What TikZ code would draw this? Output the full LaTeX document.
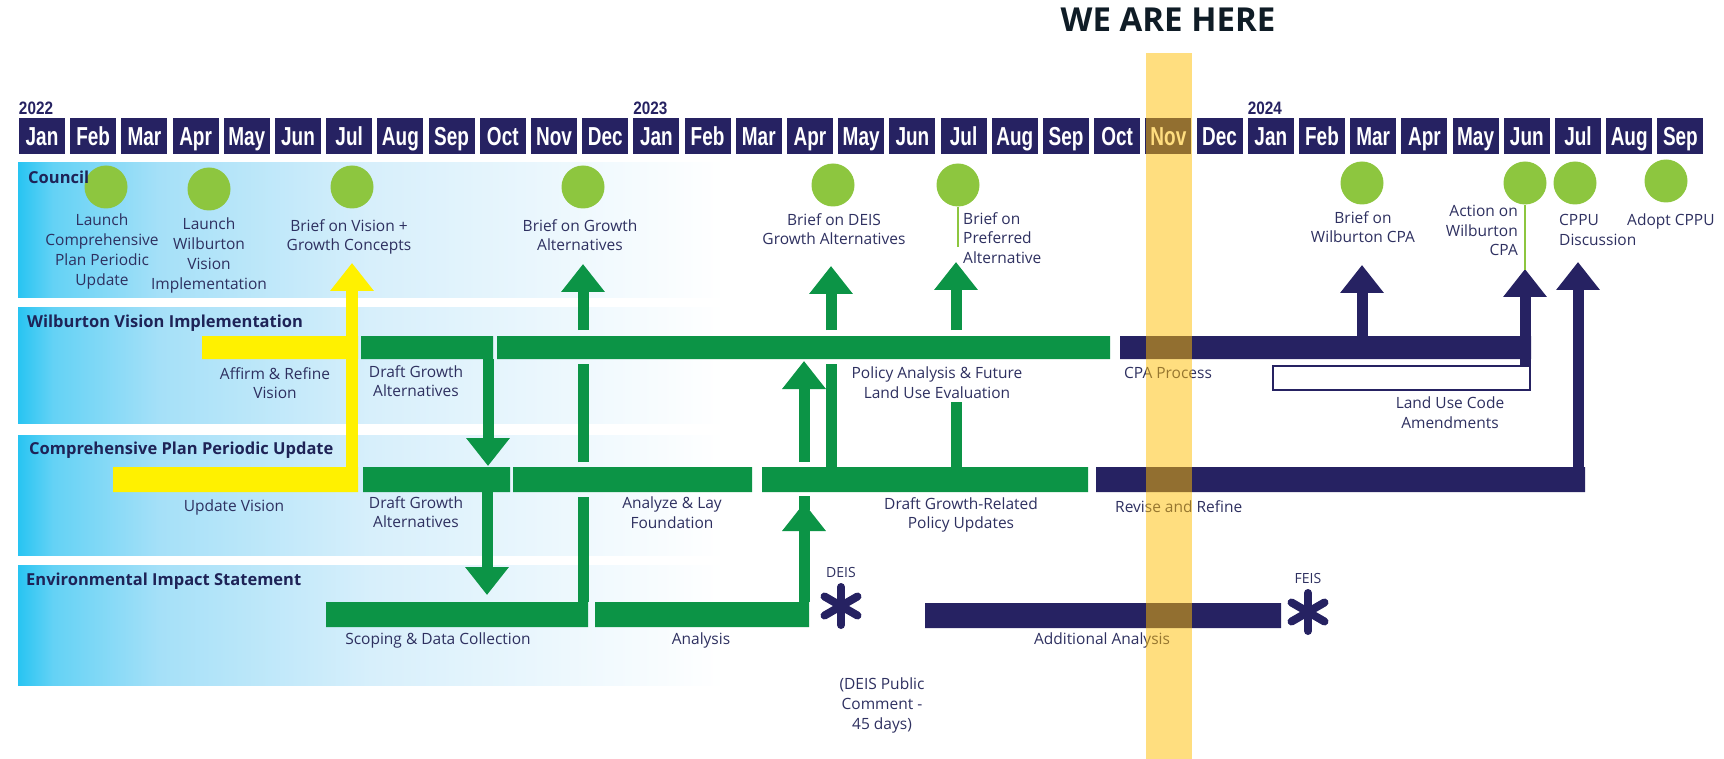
\documentclass[tikz,border=0pt]{standalone}
\usepackage{fontspec}
\setmainfont{Open Sans}
\newfontfamily\monthfont{Liberation Sans}[FakeStretch=0.73]
\newfontfamily\yearfont{Liberation Sans}[FakeStretch=0.85]
\usetikzlibrary{
    arrows.meta,
    positioning
}
\definecolor{navy}{RGB}{38,34,98}
\definecolor{gbar}{RGB}{12,148,70}
\definecolor{yel}{RGB}{255,241,0}
\definecolor{dotgreen}{RGB}{141,198,63}
\definecolor{txt}{RGB}{46,48,96}
\definecolor{titlecol}{RGB}{30,35,87}
\definecolor{hereband}{RGB}{255,189,0}
\definecolor{herehead}{RGB}{15,28,38}
\definecolor{bandA}{RGB}{40,196,242}
\definecolor{bandB}{RGB}{100,210,245}
\definecolor{bandC}{RGB}{165,224,248}
\definecolor{bandD}{RGB}{215,239,251}
\pgfdeclarehorizontalshading{bandfade}{100bp}{color(0bp)=(bandA); color(25bp)=(bandA); color(27bp)=(bandB); color(33bp)=(bandC); color(45bp)=(bandD); color(65bp)=(white); color(100bp)=(white)}

\begin{document}
\begin{tikzpicture}[x=1pt,y=-1pt,
    monthbox/.style={fill=navy, text=white, minimum width=46pt, minimum height=36pt,
        inner sep=0pt, text height=19pt, text depth=0pt,
        font=\monthfont\bfseries\fontsize{26}{26}\selectfont},
    yearlbl/.style={text=navy, inner sep=0pt, anchor=south west,
        font=\yearfont\bfseries\fontsize{18}{18}\selectfont},
    lbl/.style={font=\fontsize{15.5}{19.7}\selectfont, text=txt, align=center,
        inner sep=0pt, anchor=north},
    rowtitle/.style={font=\fontsize{16.5}{20}\selectfont\bfseries, text=titlecol,
        inner sep=0pt, anchor=north west},
    dot/.style={circle, fill=dotgreen, minimum size=43pt, inner sep=0pt},
    gshaft/.style={draw=gbar, line width=11pt},
    nshaft/.style={draw=navy, line width=11pt},
    headtip/.style={-{Triangle[width=42pt,length=28pt]}}
]
\useasboundingbox (0,0) rectangle (1724,759);

% row bands
\shade[shading=bandfade] (18,163) rectangle (900,298);
\shade[shading=bandfade] (18,308) rectangle (900,423);
\shade[shading=bandfade] (18,435) rectangle (900,555);
\shade[shading=bandfade] (18,565) rectangle (900,685);

% months
\foreach \mon [count=\i from 0] in {Jan,Feb,Mar,Apr,May,Jun,Jul,Aug,Sep,Oct,Nov,Dec,
        Jan,Feb,Mar,Apr,May,Jun,Jul,Aug,Sep,Oct,Nov,Dec,Jan,Feb,Mar,Apr,May,Jun,Jul,Aug,Sep}
    \node[monthbox] (m\i) at ({42+51.2*\i},136) {\mon};
\node[yearlbl] (y22) at ([yshift=3pt]m0.north west) {2022};
\node[yearlbl] (y23) at ([yshift=3pt]m12.north west) {2023};
\node[yearlbl] (y24) at ([yshift=3pt]m24.north west) {2024};

% bars
\fill[yel] (202,336) rectangle (358,359) (113,467) rectangle (358,492);
\draw[yel, line width=12pt, headtip] (352,492) -- (352,263);

\fill[gbar] (361,336) rectangle (493,359)
    (497,336) rectangle (1110,359)
    (363,467) rectangle (510,492)
    (513,467) rectangle (752,492)
    (762,467) rectangle (1088,492)
    (326,602) rectangle (588,627)
    (595,602) rectangle (809,627);

\fill[navy] (1120,336) rectangle (1531,359)
    (1096,467) rectangle (1585,492)
    (925,603) rectangle (1281,628);
\draw[navy, line width=2pt, fill=white] (1273,366) rectangle (1530,390);

% arrows
\draw[gshaft] (583,602) -- (583,497) (583,462) -- (583,364);
\draw[gshaft, headtip] (583,330) -- (583,264);
\draw[gshaft] (831,467) -- (831,364);
\draw[gshaft, headtip] (831,330) -- (831,266);
\draw[gshaft] (956,467) -- (956,402);
\draw[gshaft, headtip] (956,330) -- (956,262);
\draw[gshaft, headtip] (804,462) -- (804,361);
\draw[gshaft] (804,496) -- (804,510);
\draw[gshaft, headtip] (804,602) -- (804,503);
\draw[gshaft, headtip] (488,359) -- (488,466);
\draw[gshaft, headtip] (487,492) -- (487,595);

\draw[nshaft, headtip] (1362,336) -- (1362,265);
\draw[nshaft, headtip] (1525,365) -- (1525,269);
\draw[nshaft, headtip] (1578,467) -- (1578,262);

% council dots
\node[dot] (c1) at (106,187) {};
\node[dot] (c2) at (209,189) {};
\node[dot] (c3) at (352,187) {};
\node[dot] (c4) at (583,187) {};
\node[dot] (c5) at (833,185) {};
\node[dot] (c6) at (958,185) {};
\node[dot] (c7) at (1362,183) {};
\node[dot] (c8) at (1525,183) {};
\node[dot] (c9) at (1575,183) {};
\node[dot] (c10) at (1666,181) {};
\draw[dotgreen, line width=2pt] (c6.south) -- (958,247);
\draw[dotgreen, line width=2pt] (c8.south) -- (1525,270);

% DEIS / FEIS marks
\foreach \cx/\cy in {841/606,1308/612}
    \foreach \a in {90,30,150}
        \draw[navy, line width=8pt, line cap=round] (\cx,\cy) ++(\a:19) -- ++(\a+180:38);

% row titles
\node[rowtitle] (council) at (28,171) {Council};
\node[rowtitle] (wvi) at (27,315) {Wilburton Vision Implementation};
\node[rowtitle] (cppu) at (29,442) {Comprehensive Plan Periodic Update};
\node[rowtitle] (eis) at (26,573) {Environmental Impact Statement};

% labels
\node[lbl] (t1) at (102,214) {Launch\\Comprehensive\\Plan Periodic\\Update};
\node[lbl] (t2) at (209,218) {Launch\\Wilburton\\Vision\\Implementation};
\node[lbl] (t3) at (349,219) {Brief on Vision +\\Growth Concepts};
\node[lbl] (t4) at (580,219) {Brief on Growth\\Alternatives};
\node[lbl] (t5) at (834,213) {Brief on DEIS\\Growth Alternatives};
\node[lbl, anchor=north west, align=left] (t6) at (963,212) {Brief on\\Preferred\\Alternative};
\node[lbl] (t7) at (1363,211) {Brief on\\Wilburton CPA};
\node[lbl, anchor=north east, align=right] (t8) at (1518,205) {Action on\\Wilburton\\CPA};
\node[lbl, anchor=north west, align=left] (t9) at (1559,214) {CPPU\\Discussion};
\node[lbl, anchor=north west] (t10) at (1627,214) {Adopt CPPU};

\node[lbl] (affirm) at (275,367) {Affirm \& Refine\\Vision};
\node[lbl] (draftw) at (416,365) {Draft Growth\\Alternatives};
\node[lbl] (policy) at (937,367) {Policy Analysis \& Future\\Land Use Evaluation};
\node[lbl, anchor=north west] (cpa) at (1124,367) {CPA Process};
\node[lbl] (luc) at (1450,397) {Land Use Code\\Amendments};

\node[lbl] (updv) at (234,500) {Update Vision};
\node[lbl] (draftc) at (416,496) {Draft Growth\\Alternatives};
\node[lbl] (analyze) at (672,497) {Analyze \& Lay\\Foundation};
\node[lbl] (draftrel) at (961,497) {Draft Growth-Related\\Policy Updates};
\node[lbl, anchor=north west] (revise) at (1115,500) {Revise and Refine};

\node[lbl] (scoping) at (438,633) {Scoping \& Data Collection};
\node[lbl] (analysis) at (701,633) {Analysis};
\node[lbl, font=\fontsize{14}{17}\selectfont] (deis) at (841,567) {DEIS};
\node[lbl] (comment) at (882,678) {(DEIS Public\\Comment -\\45 days)};
\node[lbl] (addl) at (1102,633) {Additional Analysis};
\node[lbl, font=\fontsize{14}{17}\selectfont] (feis) at (1308,573) {FEIS};

% we are here
\fill[hereband, opacity=0.5] (1146,53) rectangle (1192,759);
\node[font=\fontsize{33}{33}\selectfont\bfseries, text=herehead, inner sep=0pt] (here) at (1168,20) {WE ARE HERE};
\end{tikzpicture}
\end{document}
